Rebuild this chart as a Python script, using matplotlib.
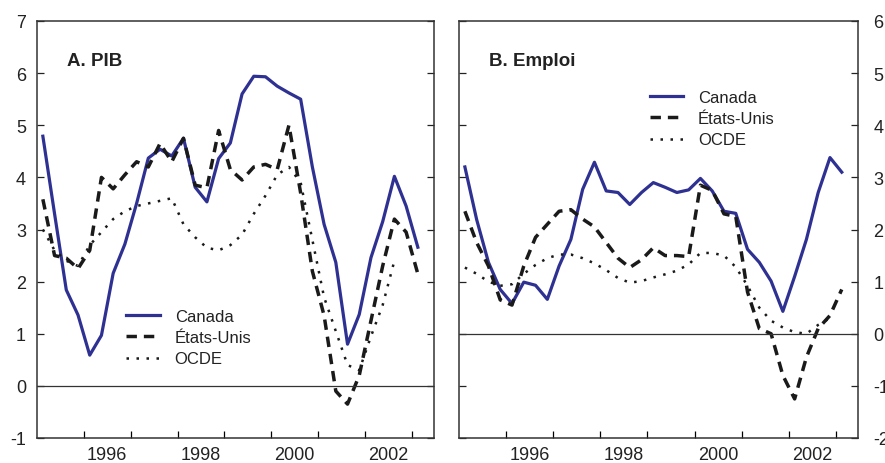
import numpy as np
import matplotlib
matplotlib.use("Agg")
import matplotlib.pyplot as plt
from matplotlib.ticker import FixedLocator, NullFormatter, FixedFormatter

plt.rcParams['font.family'] = ['Liberation Sans', 'DejaVu Sans']
plt.rcParams['axes.unicode_minus'] = False

# quarterly data, 1995Q1 to 2003Q1 (plotted at mid-quarter)
quarters = 1995.125 + 0.25 * np.arange(33)

# A. PIB (%)
pib_canada = [4.79, 3.3, 1.84, 1.36, 0.59, 0.97, 2.16, 2.72, 3.5, 4.37, 4.54,
              4.41, 4.75, 3.81, 3.53, 4.36, 4.66, 5.6, 5.94, 5.93, 5.75, 5.62,
              5.5, 4.2, 3.1, 2.37, 0.8, 1.37, 2.46, 3.15, 4.02, 3.45, 2.66]
pib_usa = [3.58, 2.5, 2.45, 2.25, 2.6, 4.0, 3.78, 4.05, 4.3, 4.2, 4.65,
           4.3, 4.75, 3.85, 3.8, 4.9, 4.15, 3.95, 4.2, 4.25, 4.15, 5.0,
           3.7, 2.2, 1.35, -0.1, -0.35, 0.2, 1.25, 2.3, 3.2, 2.95, 2.15]
pib_ocde = [3.0, 2.6, 2.4, 2.3, 2.7, 2.95, 3.2, 3.35, 3.45, 3.5, 3.55,
            3.6, 3.1, 2.85, 2.65, 2.6, 2.7, 2.9, 3.3, 3.65, 4.05, 4.2,
            3.9, 2.8, 1.7, 1.05, 0.4, 0.3, 0.95, 1.55, 2.4]

# B. Emploi (%)
emp_canada = [3.2, 2.19, 1.37, 0.85, 0.58, 0.99, 0.93, 0.66, 1.3, 1.81, 2.77,
              3.29, 2.74, 2.71, 2.48, 2.71, 2.9, 2.81, 2.71, 2.76, 2.98, 2.74,
              2.35, 2.31, 1.62, 1.37, 1.01, 0.43, 1.1, 1.81, 2.71, 3.38, 3.1]
emp_usa = [2.35, 1.75, 1.3, 0.65, 0.55, 1.3, 1.85, 2.1, 2.35, 2.38, 2.2,
           2.05, 1.75, 1.45, 1.27, 1.42, 1.65, 1.5, 1.5, 1.48, 2.85, 2.75,
           2.3, 2.25, 0.8, 0.1, 0.0, -0.8, -1.25, -0.45, 0.1, 0.35, 0.85]
emp_ocde = [1.27, 1.15, 1.0, 0.92, 0.95, 1.15, 1.32, 1.45, 1.52, 1.52, 1.45,
            1.35, 1.22, 1.07, 0.98, 1.01, 1.08, 1.14, 1.21, 1.33, 1.55, 1.55,
            1.5, 1.28, 0.92, 0.5, 0.25, 0.12, 0.03, 0.0, 0.17, 0.3]

labels = ["Canada", "États-Unis", "OCDE"]
year_labels = ["1996", "1998", "2000", "2002"]

blue = "#2e3192"
dark = "#1a1a1a"

fig = plt.figure(figsize=(8.85, 4.64), dpi=100)
axA = fig.add_axes([37 / 885, 1 - 439 / 464, 397 / 885, 417 / 464])
axB = fig.add_axes([459 / 885, 1 - 439 / 464, 399 / 885, 417 / 464])


def draw_panel(ax, canada, usa, ocde, ylim, title, side, leg_anchor):
    ax.plot(quarters[:len(canada)], canada, color=blue, lw=2.3, label=labels[0])
    ax.plot(quarters[:len(usa)], usa, color=dark, lw=2.5, dashes=(3.0, 2.0), label=labels[1])
    ax.plot(quarters[:len(ocde)], ocde, color=dark, lw=1.8, dashes=(1.0, 3.0), label=labels[2])
    ax.axhline(0, color="#333333", lw=0.9)
    ax.set_xlim(1995, 2003.47)
    ax.set_ylim(*ylim)
    ax.set_yticks(np.arange(ylim[0], ylim[1] + 1))
    # year tick marks, labels between them
    ax.xaxis.set_major_locator(FixedLocator(np.arange(1996, 2004)))
    ax.xaxis.set_major_formatter(NullFormatter())
    ax.xaxis.set_minor_locator(FixedLocator([1996.5, 1998.5, 2000.5, 2002.5]))
    ax.xaxis.set_minor_formatter(FixedFormatter(year_labels))
    ax.tick_params(axis="x", which="major", direction="in", length=5, width=0.9, top=False)
    ax.tick_params(axis="x", which="minor", length=0, labelsize=13, pad=6, colors="#222222")
    ax.tick_params(axis="y", direction="in", length=5, width=0.9, left=True, right=True,
                   labelleft=(side == "left"), labelright=(side == "right"),
                   labelsize=13, pad=8 if side == "left" else 11, colors="#222222")
    for s in ax.spines.values():
        s.set_linewidth(1.1)
        s.set_color("#333333")
    ax.text(0.075, 0.905, title, transform=ax.transAxes, fontsize=13.5,
            fontweight="bold", va="center", ha="left", color="#222222")
    ax.legend(loc="upper left", bbox_to_anchor=leg_anchor, frameon=False,
              fontsize=12, handlelength=2.0, handletextpad=0.9,
              labelspacing=0.38, borderaxespad=0, borderpad=0,
              labelcolor="#222222")


draw_panel(axA, pib_canada, pib_usa, pib_ocde, (-1, 7), "A. PIB", "left", (0.225, 0.31))
draw_panel(axB, emp_canada, emp_usa, emp_ocde, (-2, 6), "B. Emploi", "right", (0.478, 0.835))

fig.savefig("out.png", dpi=100)
